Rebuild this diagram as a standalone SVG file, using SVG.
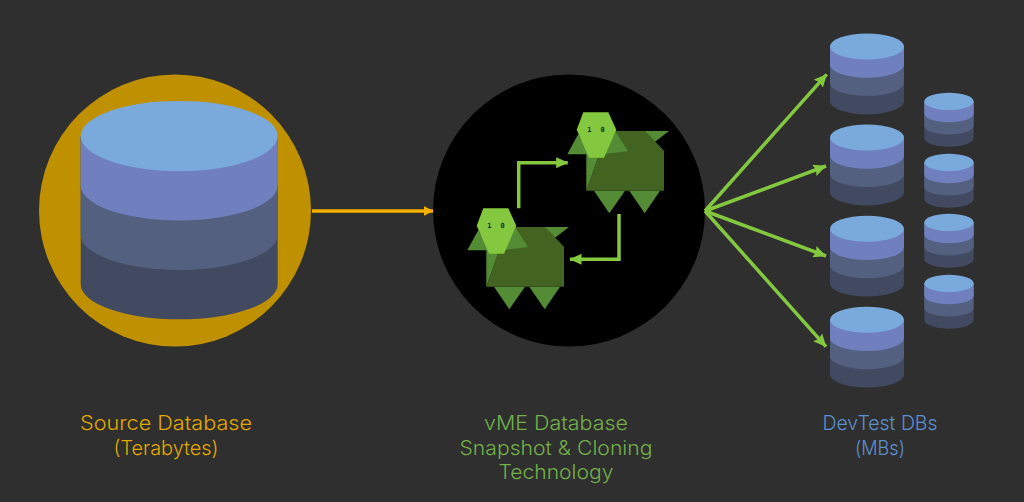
<svg xmlns="http://www.w3.org/2000/svg" width="1024" height="502" viewBox="0 0 1024 502">
<style>
.lbl{font-family:"Inter","Liberation Sans",sans-serif;font-size:20px;font-weight:300;text-anchor:middle}
.gold{fill:#e2a800}.green{fill:#72b04a}.blue{fill:#5b90cf}
.id{font-family:"DejaVu Sans Mono",monospace;font-size:7px;font-weight:bold;text-anchor:middle;word-spacing:5px;fill:#1c2a0c}
.hd{fill:#84c83f}.md{fill:#548c35}.dk{fill:#436321}
.ln{fill:none;stroke:#84c83f;stroke-width:3.5}
</style>
<defs>
<g id="db">
<path fill="#414a60" d="M-37 0V54.9A37 13 0 0 0 37 54.9V0Z"/>
<path fill="#536080" d="M-37 0V36.6A37 13 0 0 0 37 36.6V0Z"/>
<path fill="#7080bf" d="M-37 0V18.3A37 13 0 0 0 37 18.3V0Z"/>
<ellipse rx="37" ry="13" fill="#7aaadc"/>
</g>
<g id="turtle">
<polygon class="md" points="478.3,230 467.3,250.3 489,250.3"/>
<polygon class="md" points="544.3,227 569,227 555,237.7"/>
<polygon class="md" points="494,286.7 525,286.7 509.3,309.3"/>
<polygon class="md" points="529.3,286.7 560,286.7 544.7,309.3"/>
<polygon class="dk" points="513.3,227 545,227 564,246.7 564,286.7 486.3,286.7 499.3,250"/>
<polygon class="md" points="486.3,250 499.3,250 486.3,286.7"/>
<polygon class="md" points="515,226.7 528,247 505,250"/>
<polygon class="hd" points="483.3,208.3 508.3,208.3 516.3,225.7 504,253.7 489,253.7 476.7,225.7"/>
<text class="id" x="496" y="228">1 0</text>
</g>
<marker id="ah" viewBox="0 0 13 12" refX="12.5" refY="6" markerUnits="userSpaceOnUse" markerWidth="13" markerHeight="12" orient="auto"><path d="M0 0L13 6L0 12L2 6Z" fill="#84c83f"/></marker>
<marker id="ahs" viewBox="0 0 12 12" refX="11.5" refY="6" markerUnits="userSpaceOnUse" markerWidth="12" markerHeight="12" orient="auto"><path d="M0 .5L12 6L0 11.5Z" fill="#84c83f"/></marker>
<marker id="ahy" viewBox="0 0 10 11" refX="9.5" refY="5.5" markerUnits="userSpaceOnUse" markerWidth="10" markerHeight="11" orient="auto"><path d="M0 .5L10 5.5L0 10.5Z" fill="#f5b000"/></marker>
</defs>
<rect width="1024" height="502" fill="#2f2f2f"/>
<g id="source-db">
<circle cx="175" cy="210.5" r="136" fill="#bf9000"/>
<use href="#db" transform="translate(179.2 136) scale(2.662 2.7)"/>
</g>
<g id="vme">
<circle cx="569" cy="210.5" r="136" fill="#000"/>
<use href="#turtle"/>
<use href="#turtle" transform="translate(100 -96)"/>
</g>
<g id="dev-large-1"><use href="#db" x="867" y="46.5"/></g>
<g id="dev-large-2"><use href="#db" x="867" y="137.5"/></g>
<g id="dev-large-3"><use href="#db" x="867" y="228.7"/></g>
<g id="dev-large-4"><use href="#db" x="867" y="319.7"/></g>
<g id="dev-small-1"><use href="#db" transform="translate(949 101.4) scale(.667)"/></g>
<g id="dev-small-2"><use href="#db" transform="translate(949 162.4) scale(.667)"/></g>
<g id="dev-small-3"><use href="#db" transform="translate(949 222.4) scale(.667)"/></g>
<g id="dev-small-4"><use href="#db" transform="translate(949 283.4) scale(.667)"/></g>
<g id="connectors">
<path d="M312 211H433" fill="none" stroke="#f5b000" stroke-width="3.5" marker-end="url(#ahy)"/>
<path class="ln" d="M518.7 208.3V162.7H567.7" marker-end="url(#ahs)"/>
<path class="ln" d="M619 214V259.3H570" marker-end="url(#ahs)"/>
<path class="ln" d="M705 211L826.7 74.3" marker-end="url(#ah)"/>
<path class="ln" d="M705 211L826 166" marker-end="url(#ah)"/>
<path class="ln" d="M705 211L826 256" marker-end="url(#ah)"/>
<path class="ln" d="M705 211L826 346.7" marker-end="url(#ah)"/>
</g>
<g id="labels">
<text class="lbl gold" x="166" y="430" textLength="172" lengthAdjust="spacingAndGlyphs">Source Database</text>
<text class="lbl gold" x="166" y="455" textLength="105" lengthAdjust="spacingAndGlyphs">(Terabytes)</text>
<text class="lbl green" x="556" y="430" textLength="144" lengthAdjust="spacingAndGlyphs">vME Database</text>
<text class="lbl green" x="556" y="455" textLength="193" lengthAdjust="spacingAndGlyphs">Snapshot &amp; Cloning</text>
<text class="lbl green" x="556" y="479" textLength="115" lengthAdjust="spacingAndGlyphs">Technology</text>
<text class="lbl blue" x="880" y="430" textLength="115" lengthAdjust="spacingAndGlyphs">DevTest DBs</text>
<text class="lbl blue" x="880" y="455" textLength="50" lengthAdjust="spacingAndGlyphs">(MBs)</text>
</g>
</svg>
